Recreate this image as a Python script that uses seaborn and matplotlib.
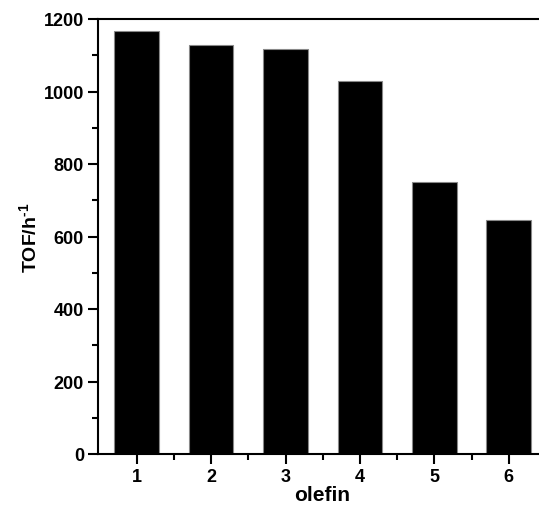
import numpy as np
import pandas as pd
import matplotlib
matplotlib.use("Agg")
import matplotlib.pyplot as plt
import seaborn as sns
from matplotlib.ticker import MultipleLocator, FixedLocator

# ── Data ─────────────────────────────────────────────────────────────────────
olefin = [1, 2, 3, 4, 5, 6]
tof = [1168, 1128, 1117, 1028, 750, 645]

df = pd.DataFrame({"olefin": olefin, "TOF": tof})

# ── Style ────────────────────────────────────────────────────────────────────
sns.set_style("ticks")
plt.rcParams["font.family"] = ["Liberation Sans", "DejaVu Sans"]
plt.rcParams["font.weight"] = "bold"
plt.rcParams["mathtext.fontset"] = "custom"
plt.rcParams["mathtext.rm"] = "Liberation Sans:bold"
plt.rcParams["mathtext.bf"] = "Liberation Sans:bold"
plt.rcParams["text.color"] = "black"
plt.rcParams["axes.labelcolor"] = "black"

fig = plt.figure(figsize=(5.39, 5.06), dpi=100)
ax = fig.add_axes([98 / 539, 51 / 506, 448 / 539, 435 / 506])

sns.barplot(data=df, x="olefin", y="TOF", native_scale=True, width=0.6,
            color="black", edgecolor="#888888", linewidth=0.8,
            saturation=1, ax=ax)

ax.set_xlim(0.48, 6.5)
ax.set_ylim(0, 1200)
ax.set_xticks(olefin)
ax.xaxis.set_minor_locator(FixedLocator([1.5, 2.5, 3.5, 4.5, 5.5]))
ax.yaxis.set_major_locator(MultipleLocator(200))
ax.yaxis.set_minor_locator(MultipleLocator(100))

for side in ["left", "bottom", "top", "right"]:
    ax.spines[side].set_linewidth(1.5)
    ax.spines[side].set_color("black")

ax.tick_params(which="major", direction="out", length=7, width=1.5,
               labelsize=13, pad=3, colors="black", labelcolor="black")
ax.tick_params(which="minor", direction="out", length=4, width=1.5,
               colors="black")
ax.tick_params(axis="x", which="both", top=False)
ax.tick_params(axis="y", which="both", right=False)
for lbl in ax.get_xticklabels() + ax.get_yticklabels():
    lbl.set_fontweight("bold")

ax.set_xlabel("olefin", fontsize=15, fontweight="bold", labelpad=0,
              color="black")
ax.set_ylabel("TOF/h$^{\\text{-1}}$", fontsize=14, fontweight="bold",
              labelpad=2, color="black")

fig.savefig("out.png", dpi=100)
